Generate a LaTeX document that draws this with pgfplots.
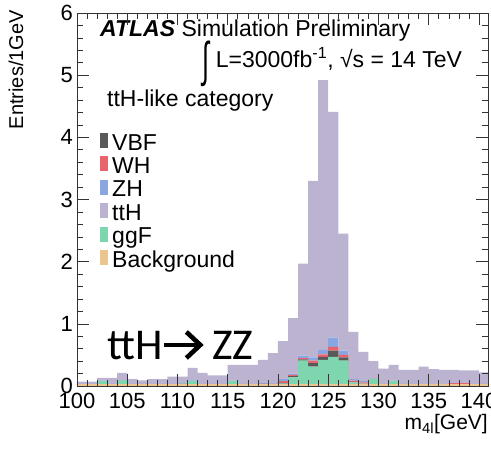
\documentclass[border=0pt]{standalone}
\usepackage{fontspec}
\setmainfont{Liberation Sans}
\newfontfamily\carlito{Carlito}
\usepackage{graphicx}
\usepackage{pgfplots}
\pgfplotsset{compat=1.18}
\usepackage{pgfplotstable}

\definecolor{cbkg}{HTML}{EBC58F}
\definecolor{cggf}{HTML}{7DD6AE}
\definecolor{cvbf}{HTML}{595959}
\definecolor{cwh}{HTML}{E8636B}
\definecolor{czh}{HTML}{8AA6E0}
\definecolor{ctth}{HTML}{BBB3D0}

% m4l bins of 1 GeV, stacked components
\pgfplotstableread{
x   bkg  ggf  vbf  wh    zh    tth
100 0.03 0    0    0     0.005 0.035
101 0.03 0    0    0     0.005 0.035
102 0.03 0.05 0    0     0.005 0.045
103 0.03 0    0    0     0.005 0.095
104 0.03 0.06 0    0     0.005 0.115
105 0.03 0    0    0     0.005 0.075
106 0.03 0    0    0     0.005 0.055
107 0.03 0    0    0     0.005 0.075
108 0.03 0    0    0     0.005 0.075
109 0.03 0    0    0     0.005 0.115
110 0.03 0.01 0    0     0.005 0.105
111 0.03 0.05 0    0     0.01  0.20
112 0.03 0    0    0     0.005 0.175
113 0.03 0    0    0     0.005 0.135
114 0.03 0    0    0     0.005 0.135
115 0.03 0.05 0    0     0.005 0.255
116 0.03 0    0    0     0.005 0.305
117 0.03 0    0    0.005 0.005 0.30
118 0.03 0    0    0.005 0.01  0.375
119 0.03 0    0    0.01  0.02  0.47
120 0.03 0.01 0.01 0.03  0.03  0.61
121 0.03 0.11 0.02 0.02  0.02  0.89
122 0.03 0.38 0.02 0.02  0.04  1.48
123 0.03 0.28 0.06 0.04  0.05  2.84
124 0.03 0.39 0.05 0.04  0.07  4.34
125 0.03 0.44 0.10 0.06  0.15  3.63
126 0.03 0.38 0.05 0.04  0.07  1.88
127 0.03 0.03 0.005 0.02 0.025 0.76
128 0.03 0.01 0    0.02  0.02  0.47
129 0.03 0.08 0    0     0.005 0.285
130 0.03 0    0    0     0.005 0.245
131 0.03 0.05 0    0     0.005 0.255
132 0.03 0    0    0     0.005 0.225
133 0.03 0    0    0     0.005 0.225
134 0.03 0    0    0     0.005 0.275
135 0.03 0    0    0.005 0.005 0.23
136 0.03 0    0    0.005 0.005 0.22
137 0.03 0    0    0.015 0.005 0.21
138 0.03 0    0    0.015 0.005 0.20
139 0.03 0    0    0     0.005 0.215
140 0.03 0    0    0     0.005 0.185
141 0.03 0    0    0     0.005 0.185
}\mfour

\newcommand{\legbox}[1]{\textcolor{#1}{\rule[2pt]{8pt}{15pt}}\hspace{4pt}}
\tikzset{legtext/.style={anchor=base west, inner sep=0pt, font=\fontsize{23}{23}\selectfont}}

\begin{document}
\begin{tikzpicture}
\useasboundingbox (-77pt,-65pt) rectangle (414pt,386pt);
\begin{axis}[
    at={(0,0)}, anchor=south west,
    scale only axis,
    width=411pt, height=373pt,
    xmin=100, xmax=140.9,
    ymin=0, ymax=6,
    clip mode=individual,
    xtick={100,105,...,140},
    ytick={0,1,...,6},
    minor x tick num=4,
    minor y tick num=4,
    major tick length=12pt,
    minor tick length=6pt,
    tick align=inside,
    xtick pos=both, ytick pos=both,
    xticklabel pos=bottom, yticklabel pos=left,
    axis on top,
    stack plots=y,
    axis line style={black!80, line width=0.8pt},
    every tick/.style={black!80, line width=0.6pt},
    tick label style={font=\fontsize{22}{22}\selectfont},
    xticklabel style={yshift=-4pt},
    yticklabel style={inner xsep=4pt},
    /pgf/number format/assume math mode=true
]

\addplot[const plot, fill=cbkg, draw=none, forget plot] table[x=x, y=bkg] {\mfour} \closedcycle;
\addplot[const plot, fill=cggf, draw=none, forget plot] table[x=x, y=ggf] {\mfour} \closedcycle;
\addplot[const plot, fill=cvbf, draw=none, forget plot] table[x=x, y=vbf] {\mfour} \closedcycle;
\addplot[const plot, fill=cwh, draw=none, forget plot] table[x=x, y=wh] {\mfour} \closedcycle;
\addplot[const plot, fill=czh, draw=none, forget plot] table[x=x, y=zh] {\mfour} \closedcycle;
\addplot[const plot, fill=ctth, draw=none, forget plot] table[x=x, y=tth] {\mfour} \closedcycle;

% legend, ordered as in the original
\node[legtext] at (axis description cs:0.056,0.6327) {\legbox{cvbf}VBF};
\node[legtext] at (axis description cs:0.056,0.5700) {\legbox{cwh}WH};
\node[legtext] at (axis description cs:0.056,0.5072) {\legbox{czh}ZH};
\node[legtext] at (axis description cs:0.056,0.4445) {\legbox{ctth}ttH};
\node[legtext] at (axis description cs:0.056,0.3818) {\legbox{cggf}ggF};
\node[legtext] at (axis description cs:0.056,0.3190) {\legbox{cbkg}Background};

\node[legtext] at (axis description cs:0.056,0.936) {{\bfseries\itshape ATLAS} Simulation Preliminary};
\node[legtext] at (axis description cs:0.305,0.853) {\raisebox{-9pt}{\scalebox{1.1}[2.1]{∫}} L=3000fb\textsuperscript{-1}, √s = 14 TeV};
\node[legtext] at (axis description cs:0.073,0.748) {ttH-like category};

\node[anchor=base west, font=\carlito\fontsize{44}{44}\selectfont, inner sep=0pt]
    at (axis description cs:0.073,0.070) {ttH};
\node[anchor=base west, font=\carlito\fontsize{44}{44}\selectfont, inner sep=0pt]
    at (axis description cs:0.328,0.070) {ZZ};
\draw[line width=4.6pt] (axis description cs:0.212,0.110) -- (axis description cs:0.294,0.110);
\draw[line width=4.6pt, line join=miter] (axis description cs:0.266,0.145) -- (axis description cs:0.300,0.110) -- (axis description cs:0.266,0.075);

\node[rotate=90, anchor=base east, font=\fontsize{20}{20}\selectfont, inner sep=0pt]
    at (axis description cs:-0.131,1.008) {Entries/1GeV};
\node[anchor=base east, font=\fontsize{21}{21}\selectfont, inner sep=0pt]
    at (axis description cs:1,-0.117) {m\textsubscript{4l}[GeV]};
\end{axis}
\end{tikzpicture}
\end{document}
